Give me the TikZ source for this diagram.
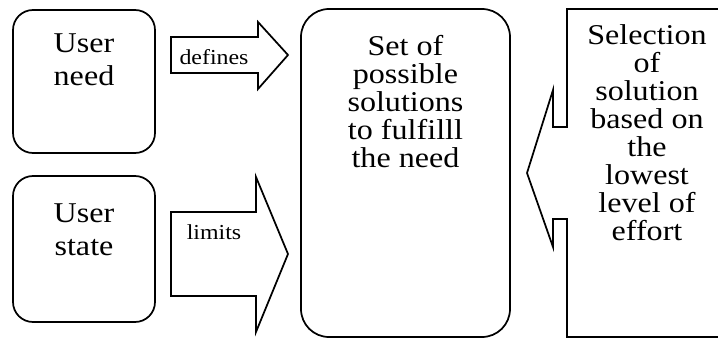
\documentclass[tikz,border=0pt]{standalone}
\usepackage{fontspec}
\setmainfont{Liberation Serif}[FakeStretch=1.12]
\usepackage{tikz}

\tikzset{
	roundbox/.style={draw,black,line width=1.3pt,rounded corners=15pt,inner sep=0pt},
	boxtext/.style={anchor=north,inner sep=0pt,align=center,font=\fontsize{21.5}{24.75}\selectfont},
	arrowtext/.style={inner sep=0pt,font=\fontsize{16}{18}\selectfont},
	blockarrow/.style={draw,black,line width=1.3pt,line join=miter}
}

\begin{document}
\begin{tikzpicture}[x=0.75pt,y=-0.75pt]
	\clip (0,0) rectangle (718,339);
	\node[roundbox,minimum width=106.5pt,minimum height=107.25pt] (need) at (84,81.5) {};
	\node[roundbox,minimum width=106.5pt,minimum height=109.5pt] (state) at (84,249) {};
	\node[roundbox,rounded corners=21pt,minimum width=156.75pt,minimum height=246pt] (solutions) at (405.5,173) {};
	\node[boxtext] (needtext) at (84,33) {User\\need};
	\node[boxtext] (statetext) at (84,203) {User\\state};
	\node[boxtext,font=\fontsize{21.5}{21}\selectfont] (solutionstext) at (405.5,35) {Set of\\possible\\solutions\\to fulfilll\\the need};
	\draw[blockarrow] (171,37) -- (258,37) -- (258,22) -- (288,55) -- (258,89) -- (258,73) -- (171,73) -- cycle;
	\draw[blockarrow] (171,212) -- (256,212) -- (256,177) -- (288,254) -- (256,332) -- (256,296) -- (171,296) -- cycle;
	\node[arrowtext] (defines) at (214,57) {defines};
	\node[arrowtext] (limits) at (214,232) {limits};
	\draw[blockarrow] (730,9) -- (567,9) -- (567,127) -- (553,127) -- (553,90) -- (527,173)
		-- (553,247) -- (553,219) -- (567,219) -- (567,337) -- (730,337);
	\node[boxtext,font=\fontsize{21.5}{21}\selectfont] (selection) at (647,24) {Selection\\of\\solution\\based on\\the\\lowest\\level of\\effort};
\end{tikzpicture}
\end{document}
